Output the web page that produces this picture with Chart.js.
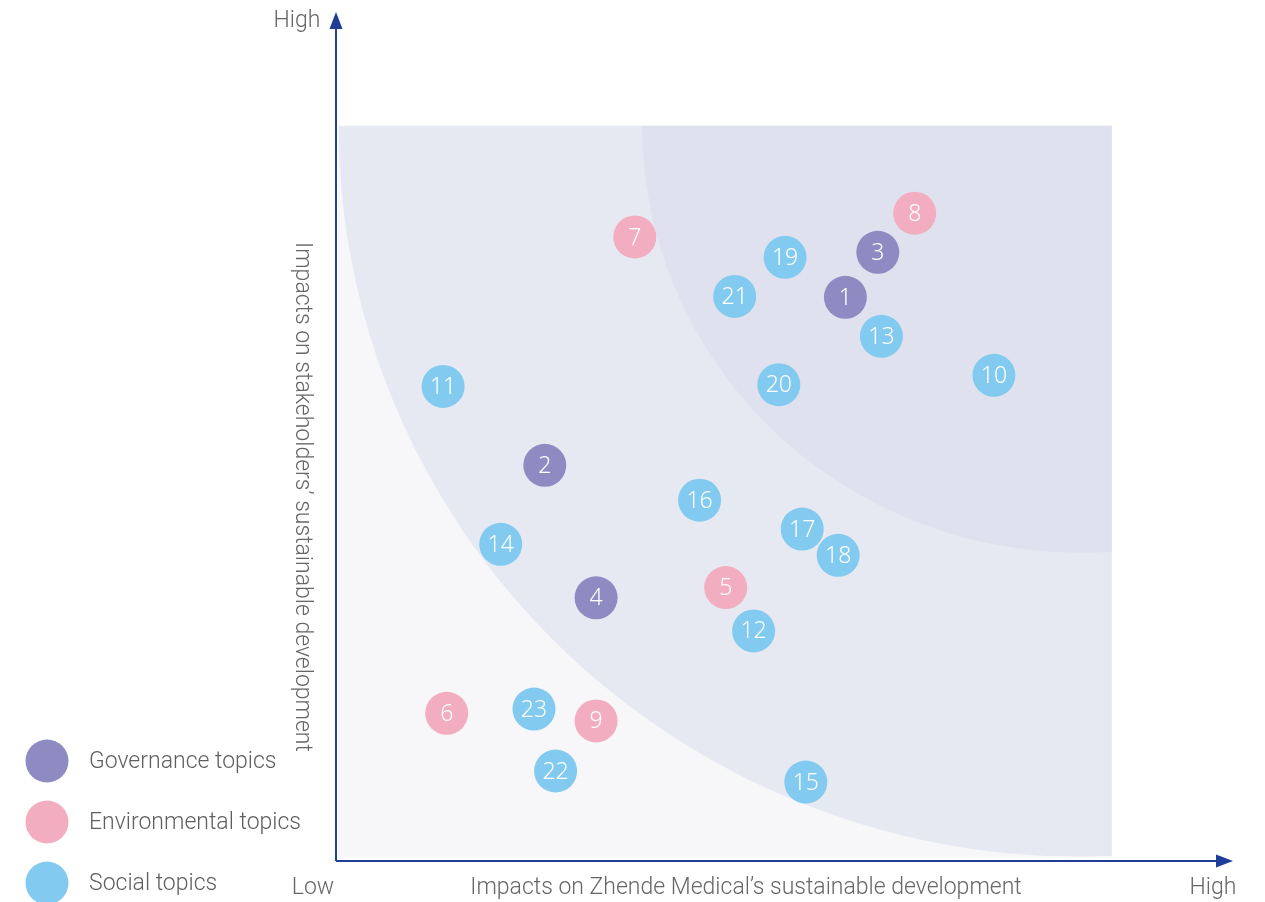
<!DOCTYPE html>
<html>
<head>
<meta charset="utf-8">
<script src="https://cdn.jsdelivr.net/npm/chart.js@4.4.0/dist/chart.umd.min.js"></script>
<style>
  html, body { margin: 0; padding: 0; background: #ffffff; }
  #wrap { position: relative; width: 1265px; height: 902px; }
</style>
</head>
<body>
<div id="wrap"><canvas id="matrix-chart"></canvas></div>
<script>
// Materiality matrix data (x: impact on company, y: impact on stakeholders, 0-100)
var governanceIds = [1, 2, 3, 4];
var governanceX = [56.6, 23.2, 60.2, 28.9];
var governanceY = [66.4, 46.6, 71.7, 31.0];

var environmentalIds = [5, 6, 7, 8, 9];
var environmentalX = [43.3, 12.3, 33.2, 64.3, 28.9];
var environmentalY = [32.2, 17.4, 73.5, 76.3, 16.5];

var socialIds = [10, 11, 12, 13, 14, 15, 16, 17, 18, 19, 20, 21, 22, 23];
var socialX = [73.1, 11.9, 46.4, 60.6, 18.3, 52.2, 40.4, 51.8, 55.8, 49.9, 49.2, 44.3, 24.4, 22.0];
var socialY = [57.2, 55.9, 27.1, 61.8, 37.3, 9.3, 42.5, 39.1, 36.0, 71.1, 56.1, 66.5, 10.6, 17.9];

var seriesLabels = ["Governance topics", "Environmental topics", "Social topics"];
var axisLabels = { low: "Low", high: "High",
    x: "Impacts on Zhende Medical\u2019s sustainable development",
    y: "Impacts on stakeholders\u2019 sustainable development" };

var colors = ["#8e8bc2", "#f2adc0", "#82caf0"];
var axisColor = "#1f3e98";
var textColor = "#666666";
var labelFont = "300 23px Roboto, 'Noto Sans', sans-serif";

function toPoints(xs, ys, ids) {
    return xs.map(function (x, i) { return { x: x, y: ys[i], id: ids[i] }; });
}

// background zones, drawn in data units through the scales
var backgroundZones = {
    id: "zones",
    beforeDatasetsDraw: function (chart) {
        var ctx = chart.ctx, sx = chart.scales.x, sy = chart.scales.y;
        var x0 = sx.getPixelForValue(0.2), x1 = sx.getPixelForValue(86.2);
        var y0 = sy.getPixelForValue(86.6), y1 = sy.getPixelForValue(0.5);
        var cx = sx.getPixelForValue(82.7), cy = sy.getPixelForValue(86.6);
        var pxX = sx.getPixelForValue(1) - sx.getPixelForValue(0);
        var pxY = sy.getPixelForValue(0) - sy.getPixelForValue(1);

        ctx.save();
        ctx.beginPath();
        ctx.rect(x0, y0, x1 - x0, y1 - y0);
        ctx.clip();
        ctx.fillStyle = "#f7f7fa";
        ctx.fillRect(x0, y0, x1 - x0, y1 - y0);

        ctx.beginPath();
        ctx.ellipse(cx, cy, 82.4 * pxX, 86.1 * pxY, 0, 0, Math.PI * 2);
        ctx.fillStyle = "#e6e9f2";
        ctx.fill();

        ctx.beginPath();
        ctx.ellipse(cx, cy, 48.7 * pxX, 50.3 * pxY, 0, 0, Math.PI * 2);
        ctx.fillStyle = "#dfe2ee";
        ctx.fill();
        ctx.restore();
    }
};

// axes with arrows, axis texts, point numbers and legend
var decorations = {
    id: "decorations",
    afterDatasetsDraw: function (chart) {
        var ctx = chart.ctx, area = chart.chartArea;
        var left = area.left, bottom = area.bottom;

        ctx.save();
        ctx.strokeStyle = axisColor;
        ctx.fillStyle = axisColor;
        ctx.lineWidth = 2;
        ctx.beginPath();
        ctx.moveTo(left, bottom);
        ctx.lineTo(left, area.top + 14);
        ctx.moveTo(left, bottom);
        ctx.lineTo(area.right - 14, bottom);
        ctx.stroke();

        ctx.beginPath();
        ctx.moveTo(left, area.top);
        ctx.lineTo(left - 6.5, area.top + 17);
        ctx.lineTo(left + 6.5, area.top + 17);
        ctx.closePath();
        ctx.fill();

        ctx.beginPath();
        ctx.moveTo(area.right - 3, bottom);
        ctx.lineTo(area.right - 20, bottom - 6.5);
        ctx.lineTo(area.right - 20, bottom + 6.5);
        ctx.closePath();
        ctx.fill();

        // numbers inside the bubbles
        ctx.fillStyle = "#ffffff";
        ctx.font = "300 23px 'Noto Sans', Roboto, sans-serif";
        ctx.textAlign = "center";
        ctx.textBaseline = "middle";
        chart.data.datasets.forEach(function (ds, i) {
            chart.getDatasetMeta(i).data.forEach(function (el, j) {
                ctx.fillText(String(ds.data[j].id), el.x, el.y + 1);
            });
        });

        // axis texts
        ctx.fillStyle = textColor;
        ctx.font = labelFont;
        ctx.fillText(axisLabels.high, 297, 21);
        ctx.fillText(axisLabels.low, 313, 888);
        ctx.fillText(axisLabels.high, 1213, 888);
        ctx.fillText(axisLabels.x, 746, 888);

        ctx.save();
        ctx.translate(302, 497);
        ctx.rotate(Math.PI / 2);
        ctx.fillText(axisLabels.y, 0, 0);
        ctx.restore();

        // legend
        ctx.textAlign = "left";
        seriesLabels.forEach(function (label, i) {
            var y = 761 + i * 61;
            ctx.beginPath();
            ctx.arc(47, y, 21.5, 0, Math.PI * 2);
            ctx.fillStyle = colors[i];
            ctx.fill();
            ctx.fillStyle = "#5f5f5f";
            ctx.fillText(label, 89, y + 1);
        });
        ctx.restore();
    }
};

var ctx = document.getElementById("matrix-chart");

var chartData = {
    datasets: [{
        label: seriesLabels[0],
        data: toPoints(governanceX, governanceY, governanceIds),
        backgroundColor: colors[0]
    }, {
        label: seriesLabels[1],
        data: toPoints(environmentalX, environmentalY, environmentalIds),
        backgroundColor: colors[1]
    }, {
        label: seriesLabels[2],
        data: toPoints(socialX, socialY, socialIds),
        backgroundColor: colors[2]
    }]
};

var chartOptions = {
    responsive: true,
    maintainAspectRatio: false,
    animation: false,
    layout: { autoPadding: false, padding: { left: 336, right: 29, top: 12, bottom: 41 } },
    elements: { point: { radius: 21.5, hoverRadius: 21.5, borderWidth: 0 } },
    scales: {
        x: { type: "linear", min: 0, max: 100, display: false },
        y: { type: "linear", min: 0, max: 100, display: false }
    },
    plugins: {
        legend: { display: false },
        tooltip: { enabled: false }
    }
};

var matrixChart = new Chart(ctx, {
    type: "scatter",
    data: chartData,
    options: chartOptions,
    plugins: [backgroundZones, decorations]
});
</script>
</body>
</html>
